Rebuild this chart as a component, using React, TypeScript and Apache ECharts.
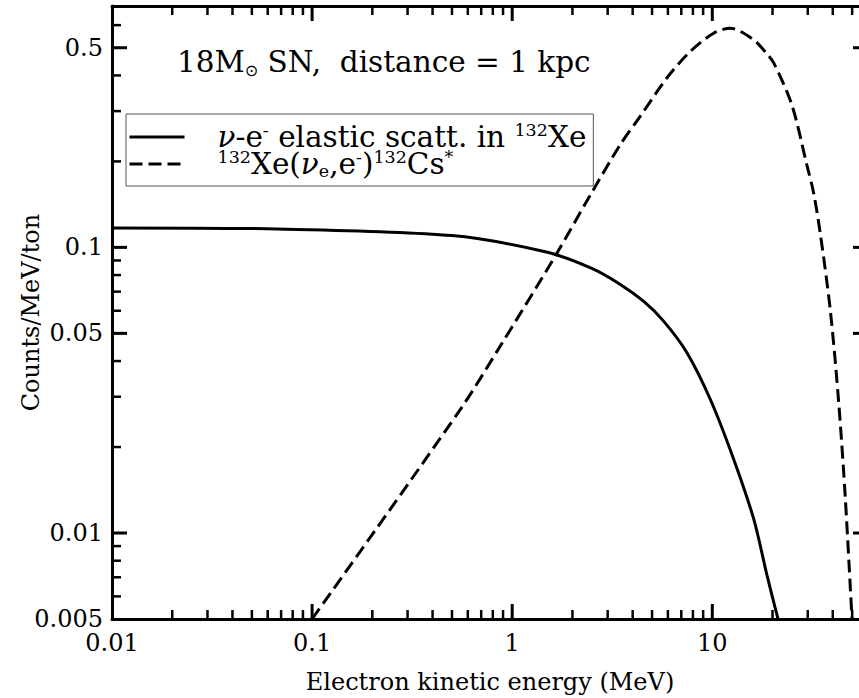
import React, { useEffect, useRef } from 'react';
import * as echarts from 'echarts';

const FONT = 'DejaVu Serif';
const INK = '#000';

const X_MIN = 0.01;
const X_MAX = 60;
const Y_MIN = 0.005;
const Y_MAX = 0.7;

const X_TICK_LABELS = [0.01, 0.1, 1, 10];
const Y_TICK_LABELS = [0.005, 0.01, 0.05, 0.1, 0.5];

const X_MAJOR_TICKS = [0.1, 1, 10];
const X_MINOR_TICKS = [0.02, 0.03, 0.04, 0.05, 0.06, 0.07, 0.08, 0.09, 0.2, 0.3, 0.4, 0.5, 0.6, 0.7, 0.8, 0.9, 2, 3, 4, 5, 6, 7, 8, 9, 20, 30, 40, 50];
const Y_MAJOR_TICKS = [0.01, 0.05, 0.1, 0.5];
const Y_MINOR_TICKS = [0.006, 0.007, 0.008, 0.009, 0.02, 0.03, 0.04, 0.06, 0.07, 0.08, 0.09, 0.2, 0.3, 0.4, 0.6];

// nu-e elastic scattering in 132Xe
const ELASTIC_E = [0.01, 0.067, 0.5, 1.5, 2.5, 3.47, 4.53, 5.71, 7.47, 9.77, 12.8, 16.1, 18.8, 21.3];
const ELASTIC_V = [0.117, 0.116, 0.110, 0.0961, 0.0844, 0.0742, 0.0648, 0.0552, 0.0428, 0.0294, 0.0181, 0.0112, 0.00708, 0.005];

// 132Xe(nu_e, e-)132Cs*
const CC_E = [0.1, 0.549, 0.871, 1.64, 2.45, 3.47, 4.37, 5.93, 7.76, 10.15, 12.3, 16.1, 18.8, 20.3, 25, 29.7, 32.1, 34.7, 38.9, 42.8, 46.2, 49.9];
const CC_V = [0.005, 0.027, 0.0451, 0.0932, 0.152, 0.229, 0.288, 0.392, 0.485, 0.562, 0.585, 0.533, 0.475, 0.442, 0.315, 0.194, 0.155, 0.111, 0.0601, 0.0288, 0.0133, 0.005];

const ELASTIC_NAME = 'ν-e⁻ elastic scatt. in ¹³²Xe';
const CC_NAME = '¹³²Xe(νₑ,e⁻)¹³²Cs*';
const LEGEND_RICH: Record<string, string> = {
  [ELASTIC_NAME]: '{nu|ν}-e{sup|-} elastic scatt. in {sup|132}Xe',
  [CC_NAME]: '{sup|132}Xe({nu|ν}{sub|e},e{sup|-}){sup|132}Cs{sup|*}',
};

const ANNOTATION = '18M{sun|⊙} SN,  distance = 1 kpc';

const round = (v: number) => +v.toPrecision(6);

const frame = () => ({ show: true, onZero: false, lineStyle: { color: '#000', width: 3 } });
const label = () => ({ fontFamily: FONT, fontSize: 24, color: '#000' });

// tick marks drawn through the axes' own scales (api.coord)
const xTicks = (values: number[], len: number, width: number) => ({
  type: 'custom',
  xAxisIndex: 0,
  yAxisIndex: 0,
  silent: true,
  z: 10,
  data: values.map((v) => [v, Y_MIN]),
  renderItem: (_p: any, api: any) => {
    const v = api.value(0);
    const b = api.coord([v, Y_MIN]);
    const t = api.coord([v, Y_MAX]);
    return {
      type: 'group',
      children: [
        { type: 'line', shape: { x1: b[0], y1: b[1], x2: b[0], y2: b[1] - len }, style: { stroke: INK, lineWidth: width } },
        { type: 'line', shape: { x1: t[0], y1: t[1], x2: t[0], y2: t[1] + len }, style: { stroke: INK, lineWidth: width } },
      ],
    };
  },
});

const yTicks = (values: number[], len: number, width: number) => ({
  type: 'custom',
  xAxisIndex: 0,
  yAxisIndex: 0,
  silent: true,
  z: 10,
  data: values.map((v) => [X_MIN, v]),
  renderItem: (_p: any, api: any) => {
    const v = api.value(1);
    const l = api.coord([X_MIN, v]);
    const r = api.coord([X_MAX, v]);
    return {
      type: 'group',
      children: [
        { type: 'line', shape: { x1: l[0], y1: l[1], x2: l[0] + len, y2: l[1] }, style: { stroke: INK, lineWidth: width } },
        { type: 'line', shape: { x1: r[0], y1: r[1], x2: r[0] - len, y2: r[1] }, style: { stroke: INK, lineWidth: width } },
      ],
    };
  },
});

export default function App() {
  const ref = useRef<HTMLDivElement>(null);

  useEffect(() => {
    if (!ref.current) return;
    const chart = echarts.init(ref.current, undefined, { renderer: 'svg' });

    const option: any = {
      animation: false,
      backgroundColor: '#fff',
      textStyle: { fontFamily: FONT },
      grid: { left: 112, top: 6, width: 756, height: 613, outerBoundsMode: 'none', containLabel: false },
      xAxis: [
        {
          type: 'log',
          logBase: 10,
          min: X_MIN,
          max: X_MAX,
          position: 'bottom',
          name: 'Electron kinetic energy (MeV)',
          nameLocation: 'middle',
          nameGap: 51,
          nameMoveOverlap: false,
          nameTextStyle: label(),
          axisLine: frame(),
          axisTick: { show: false },
          splitLine: { show: false },
          axisLabel: {
            ...label(),
            margin: 12,
            formatter: (v: number) => (X_TICK_LABELS.includes(round(v)) ? String(round(v)) : ''),
          },
        },
        {
          type: 'log',
          logBase: 10,
          min: X_MIN,
          max: X_MAX,
          position: 'top',
          axisLine: frame(),
          axisTick: { show: false },
          splitLine: { show: false },
          axisLabel: { show: false },
        },
      ],
      yAxis: [
        {
          type: 'log',
          logBase: 10,
          min: Y_MIN,
          max: Y_MAX,
          position: 'left',
          name: 'Counts/MeV/ton',
          nameLocation: 'middle',
          nameGap: 69,
          nameMoveOverlap: false,
          nameTextStyle: label(),
          axisLine: frame(),
          axisTick: { show: false },
          splitLine: { show: false },
          axisLabel: {
            ...label(),
            margin: 9,
            formatter: (v: number) => (Y_TICK_LABELS.includes(round(v)) ? String(round(v)) : ''),
          },
        },
        {
          // same scale divided by 5: its decade ticks fall on 0.005, 0.05, 0.5
          type: 'log',
          logBase: 10,
          min: Y_MIN / 5,
          max: Y_MAX / 5,
          position: 'left',
          axisLine: { show: false, onZero: false },
          axisTick: { show: false },
          splitLine: { show: false },
          axisLabel: {
            ...label(),
            margin: 9,
            formatter: (v: number) => {
              const r = round(v * 5);
              return Y_TICK_LABELS.includes(r) && r >= 0.05 ? String(r) : '';
            },
          },
        },
        {
          type: 'log',
          logBase: 10,
          min: Y_MIN,
          max: Y_MAX,
          position: 'right',
          axisLine: frame(),
          axisTick: { show: false },
          splitLine: { show: false },
          axisLabel: { show: false },
        },
      ],
      legend: {
        orient: 'vertical',
        left: 126,
        top: 114,
        padding: [7, 7, 6, 2],
        itemGap: -5,
        itemWidth: 55,
        itemHeight: 14,
        borderColor: '#555',
        borderWidth: 1,
        borderRadius: 0,
        backgroundColor: '#fff',
        selectedMode: false,
        itemStyle: { opacity: 0 },
        lineStyle: { width: 3 },
        data: [{ name: ELASTIC_NAME }, { name: CC_NAME }],
        formatter: (name: string) => LEGEND_RICH[name] || name,
        textStyle: {
          fontFamily: FONT,
          fontSize: 29.5,
          color: '#000',
          lineHeight: 32,
          padding: [0, 0, 0, 28],
          rich: {
            sup: { fontFamily: FONT, fontSize: 17.5, lineHeight: 17, verticalAlign: 'top', color: '#000' },
            sub: { fontFamily: FONT, fontSize: 17.5, lineHeight: 17, verticalAlign: 'bottom', color: '#000' },
            nu: { fontFamily: FONT, fontSize: 29.5, lineHeight: 32, fontStyle: 'italic', color: '#000' },
          },
        },
      },
      graphic: [
        {
          type: 'text',
          x: 177,
          y: 62,
          z: 20,
          style: {
            text: ANNOTATION,
            fontFamily: FONT,
            fontSize: 29.5,
            lineHeight: 32,
            fill: '#000',
            verticalAlign: 'middle',
            rich: {
              sun: { fontFamily: 'DejaVu Sans', fontSize: 16, lineHeight: 16, verticalAlign: 'bottom', fill: '#000' },
            },
          },
        },
      ],
      series: [
        {
          name: ELASTIC_NAME,
          type: 'line',
          xAxisIndex: 0,
          yAxisIndex: 0,
          data: ELASTIC_E.map((e, i) => [e, ELASTIC_V[i]]),
          showSymbol: false,
          symbol: 'none',
          smooth: 0.3,
          lineStyle: { color: '#000', width: 3, type: 'solid' },
          itemStyle: { color: '#000' },
          z: 5,
        },
        {
          name: CC_NAME,
          type: 'line',
          xAxisIndex: 0,
          yAxisIndex: 0,
          data: CC_E.map((e, i) => [e, CC_V[i]]),
          showSymbol: false,
          symbol: 'none',
          smooth: 0.3,
          lineStyle: { color: '#000', width: 3, type: [13, 6] },
          itemStyle: { color: '#000' },
          z: 5,
        },
        xTicks(X_MAJOR_TICKS, 15, 3),
        xTicks(X_MINOR_TICKS, 9, 2.5),
        yTicks(Y_MAJOR_TICKS, 15, 3),
        yTicks(Y_MINOR_TICKS, 9, 2.5),
      ],
    };
    chart.setOption(option);
    return () => chart.dispose();
  }, []);

  return (
    <div
      ref={ref}
      style={{ position: 'absolute', left: 0, top: 0, width: 859, height: 698, background: '#fff' }}
    />
  );
}
